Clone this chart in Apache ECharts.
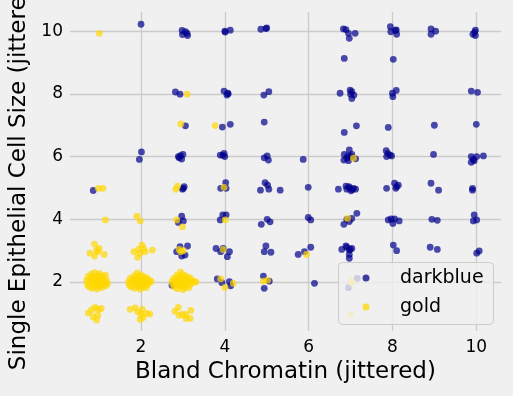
<!DOCTYPE html>
<html>
<head>
<meta charset="utf-8">
<script src="https://cdn.jsdelivr.net/npm/echarts@6/dist/echarts.min.js"></script>
<style>
html,body{margin:0;padding:0;background:#f0f0f0;}
#chart{width:513px;height:396px;}
</style>
</head>
<body>
<div id="chart"></div>
<script>
const seriesNames = ['darkblue', 'gold'];
const xTicks = [2, 4, 6, 8, 10];
const yTicks = [2, 4, 6, 8, 10];
const xTitle = 'Bland Chromatin (jittered)';
const yTitle = 'Single Epithelial Cell Size (jittered)';

const darkblue = [
  [2.0,10.22],[2.98,10.02],[3.06,9.98],[3.1,9.93],[2.99,9.89],[3.11,9.86],
  [4.01,9.97],[4.13,10.03],[4.0,10.0],
  [4.86,10.06],[4.98,10.08],[5.0,10.1],
  [6.83,10.07],[6.89,10.05],[6.95,9.93],[7.11,9.93],[6.97,9.77],
  [7.95,10.14],[7.96,9.98],[8.09,10.04],[8.1,9.9],[8.07,10.02],
  [8.92,10.07],[9.03,10.0],[8.92,9.9],
  [9.98,10.03],[9.96,9.97],[9.92,9.9],[9.98,9.86],
  [6.85,9.13],[8.02,9.1],
  [2.82,8.06],[2.93,7.99],
  [3.98,8.09],[4.07,8.02],[4.05,7.96],[4.08,8.0],
  [4.93,7.96],[5.05,8.07],
  [6.75,8.02],[6.99,8.12],[7.03,8.07],[7.0,7.99],[7.08,7.96],[7.03,7.85],
  [8.0,8.02],[8.09,8.11],[8.01,7.91],
  [9.88,8.09],[10.03,8.05],
  [3.06,6.98],[3.94,6.94],[4.13,7.03],[4.94,7.1],[7.14,6.98],[7.9,6.93],[9.0,7.0],[10.0,7.03],[6.85,6.77],
  [2.01,6.15],[1.96,5.91],
  [2.89,6.0],[2.94,6.03],[3.0,6.07],[2.97,5.92],[2.91,5.96],
  [3.89,6.05],[3.98,6.1],[4.0,6.0],[3.95,6.04],
  [4.94,5.96],[5.01,6.02],[5.04,5.89],
  [5.87,5.91],
  [6.97,6.21],[6.85,6.07],[6.91,5.95],[6.95,5.87],[6.84,5.89],[7.0,6.0],[7.03,6.07],[7.12,5.93],[6.94,6.02],
  [7.85,6.19],[7.89,6.1],[7.94,6.05],[7.98,6.02],[7.86,6.0],
  [8.98,6.07],
  [9.88,6.0],[9.93,5.91],[10.01,6.0],[10.17,6.02],[9.88,5.82],[9.95,5.87],
  [0.86,4.92],
  [2.99,4.96],[3.03,5.04],[3.01,4.99],
  [4.02,5.17],[3.9,4.99],[4.03,4.99],
  [4.96,5.17],[5.02,5.09],[4.85,4.93],[5.05,4.96],[5.32,4.93],
  [5.99,5.02],
  [6.71,4.96],[6.89,5.06],[6.96,5.04],[7.01,4.91],[7.07,4.99],[7.12,4.96],[6.91,4.96],[6.98,5.0],[7.04,4.95],
  [7.86,4.99],[8.05,5.15],[8.14,5.09],[8.08,4.99],[8.1,5.04],
  [8.92,5.15],[9.1,4.93],
  [9.91,4.99],[9.91,4.93],
  [2.97,4.1],[3.01,3.95],[2.89,3.9],
  [3.89,3.98],[3.95,4.14],[4.03,4.14],
  [5.01,4.0],[5.08,3.92],[4.87,3.84],
  [5.99,4.06],[6.05,3.98],
  [6.91,4.0],[6.84,3.84],[7.15,4.19],[7.03,4.03],[6.97,3.93],
  [7.9,3.98],[7.97,4.01],[8.05,4.01],[8.16,3.95],[8.01,3.87],
  [8.94,4.0],[9.07,3.97],
  [9.95,4.14],[9.93,3.95],[10.01,3.98],
  [2.85,2.97],[2.93,3.13],[3.11,3.15],[3.05,2.86],[2.97,2.83],
  [3.79,3.07],[3.9,2.97],[3.96,3.07],[4.11,2.97],[4.06,2.81],
  [4.98,3.15],[4.94,2.97],[5.1,2.95],
  [5.75,2.88],[5.9,2.97],[6.05,3.11],
  [6.79,3.04],[6.89,3.15],[6.97,3.02],[7.03,3.07],[6.97,2.88],[6.97,2.76],[6.91,3.11],[6.99,3.05],
  [8.02,3.18],[8.1,3.0],
  [8.9,3.11],[9.07,3.04],
  [10.01,2.92],[10.07,2.99],
  [2.74,1.9],
  [3.82,2.1],[3.93,1.98],[4.11,2.01],[4.14,1.88],
  [4.92,2.19],[5.06,2.03],[4.94,1.8],
  [6.14,1.96],
  [7.16,2.12],[6.95,1.82]
];

const gold = [
  [1.005,9.93],
  [3.1,7.99],
  [2.95,7.04],[3.77,6.99],
  [7.07,5.95],
  [0.98,4.99],[1.09,4.99],
  [2.83,4.96],[2.87,5.06],
  [3.98,5.02],
  [1.15,3.98],[1.9,4.1],[1.98,3.95],
  [2.85,3.98],[2.99,3.76],
  [4.01,3.98],
  [6.93,4.03],
  [0.78,2.92],[0.89,3.21],[0.94,3.02],[1.0,3.07],[1.12,2.88],[0.97,2.97],[0.89,2.83],
  [1.83,2.97],[1.94,3.04],[2.02,3.18],[2.1,2.97],[2.27,3.02],[1.92,2.79],[1.98,2.92],[2.06,3.07],
  [2.95,2.97],[3.01,3.0],[2.91,3.04],
  [3.96,3.04],
  [5.95,2.88],
  [0.70,2.05],[0.72,1.92],[0.74,2.18],[0.76,1.85],[0.78,2.10],[0.80,1.98],[0.82,2.25],[0.83,1.80],[0.85,2.04],[0.86,1.93],[0.88,2.15],[0.89,2.30],[0.90,1.88],[0.92,2.00],[0.93,2.09],[0.95,1.78],[0.96,2.20],[0.97,1.95],[0.99,2.06],[1.00,1.86],[1.01,2.27],[1.02,2.12],[1.04,1.97],[1.05,2.02],[1.07,1.83],[1.08,2.17],[1.10,1.92],[1.11,2.08],[1.13,1.99],[1.15,2.22],[1.16,1.88],[1.18,2.05],[1.20,1.95],[0.94,1.91],[0.87,2.11],[1.03,2.18],
  [1.70,2.00],[1.72,1.90],[1.74,2.12],[1.77,1.84],[1.79,2.06],[1.81,1.96],[1.83,2.20],[1.85,1.80],[1.86,2.03],[1.88,1.92],[1.90,2.14],[1.91,2.29],[1.93,1.87],[1.95,2.00],[1.96,2.08],[1.98,1.77],[1.99,2.22],[2.01,1.94],[2.02,2.05],[2.04,1.85],[2.05,2.18],[2.07,2.10],[2.09,1.97],[2.10,2.02],[2.12,1.82],[2.14,2.13],[2.16,1.92],[2.18,2.06],[2.21,1.99],[2.24,2.03],[1.94,2.16],[1.87,2.08],[2.03,1.90],
  [2.74,2.02],[2.76,1.92],[2.78,2.12],[2.80,1.84],[2.82,2.06],[2.84,1.97],[2.86,2.22],[2.87,1.79],[2.89,2.04],[2.91,1.91],[2.92,2.15],[2.94,2.32],[2.95,1.86],[2.97,2.00],[2.98,2.09],[3.00,1.76],[3.01,2.24],[3.03,1.95],[3.04,2.06],[3.06,1.84],[3.07,2.19],[3.09,2.11],[3.11,1.97],[3.12,2.03],[3.14,1.82],[3.16,2.14],[3.18,1.93],[3.20,2.07],[3.23,1.99],[3.27,2.02],[3.31,2.00],[2.93,2.18],[3.05,1.88],[2.88,1.95],
  [3.9,2.1],[4.2,1.96],[4.0,1.83],
  [4.92,2.03],[5.02,2.06],
  [7.0,2.06],[7.03,1.96],
  [0.74,1.02],[0.82,1.11],[0.9,1.19],[0.98,1.13],[1.05,1.16],[0.86,0.89],[0.94,0.79],[0.97,0.95],
  [1.74,1.13],[1.86,1.18],[1.92,1.05],[2.0,0.98],[2.05,0.87],[2.13,1.0],[2.21,0.98],[1.98,0.81],[2.03,1.13],
  [2.81,1.07],[2.89,1.19],[2.99,0.97],[3.07,0.84],[3.17,0.84],[3.19,1.1],[2.91,0.94],[3.07,0.97],
  [7.0,0.97]
];

const seriesColors = ['#00008b', '#ffd700'];
const FONT = 'DejaVu Sans';

// legend drawn as a box with one marker and label per series
const legendBox = {x: 338, y: 262, w: 155, h: 62};
const legendRows = seriesNames.map((name, i) => ({name, color: seriesColors[i]}));
const legendGraphics = [{
  type: 'rect', z: 100, silent: true,
  shape: {x: legendBox.x + 0.5, y: legendBox.y + 0.5, width: legendBox.w, height: legendBox.h, r: 4},
  style: {fill: 'rgba(240,240,240,0.8)', stroke: '#cccccc', lineWidth: 1}
}];
legendRows.forEach((row, i) => {
  const cy = legendBox.y + 16 + i * 29;
  legendGraphics.push({
    type: 'circle', z: 101, silent: true,
    shape: {cx: legendBox.x + 28, cy: cy, r: 3.5},
    style: {fill: row.color, opacity: 0.75}
  });
  legendGraphics.push({
    type: 'text', z: 101, silent: true,
    x: legendBox.x + 62, y: cy,
    style: {text: row.name, fill: '#000', font: '19px "DejaVu Sans"', verticalAlign: 'middle', align: 'left'}
  });
});

const chart = echarts.init(document.getElementById('chart'), null, {renderer: 'canvas'});
chart.setOption({
  backgroundColor: '#f0f0f0',
  animation: false,
  textStyle: {fontFamily: FONT},
  grid: {left: 70, right: 12, top: 12, bottom: 65, containLabel: false, outerBoundsMode: 'none'},
  xAxis: {
    type: 'value', min: 0.305, max: 10.59,
    axisLine: {show: false}, axisTick: {show: false, customValues: xTicks},
    axisLabel: {customValues: xTicks, color: '#000', fontSize: 17, fontFamily: FONT, margin: 8},
    splitLine: {show: true, lineStyle: {color: '#cbcbcb', width: 1.3}},
    name: xTitle, nameLocation: 'middle', nameGap: 30,
    nameTextStyle: {fontSize: 23, color: '#000', fontFamily: FONT}
  },
  yAxis: {
    type: 'value', min: 0.44, max: 10.61,
    axisLine: {show: false}, axisTick: {show: false, customValues: yTicks},
    axisLabel: {customValues: yTicks, color: '#000', fontSize: 17, fontFamily: FONT, margin: 7},
    splitLine: {show: true, lineStyle: {color: '#cbcbcb', width: 1.3}},
    name: yTitle, nameLocation: 'middle', nameGap: 38, nameRotate: 90,
    nameTextStyle: {fontSize: 23, color: '#000', fontFamily: FONT}
  },
  graphic: {elements: legendGraphics},
  series: [
    {name: seriesNames[0], type: 'scatter', data: darkblue, symbolSize: 6.8,
     itemStyle: {color: seriesColors[0], opacity: 0.7}, z: 2},
    {name: seriesNames[1], type: 'scatter', data: gold, symbolSize: 6.8,
     itemStyle: {color: seriesColors[1], opacity: 0.7}, z: 3}
  ]
});
</script>
</body>
</html>
